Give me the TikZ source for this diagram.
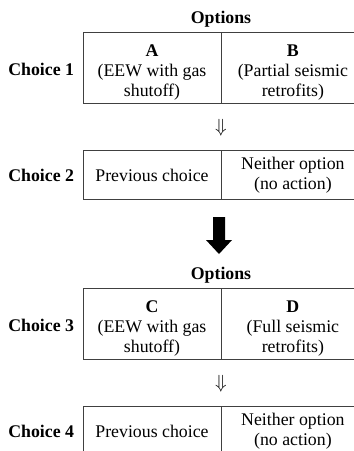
\documentclass[tikz,border=0pt]{standalone}
\usepackage{fontspec}
\setmainfont{Liberation Serif}
\usetikzlibrary{positioning}
\newcommand{\optlbl}[1]{\rule{0pt}{21pt}\textbf{#1}}

\begin{document}
\begin{tikzpicture}[x=1pt,y=-1pt,font=\fontsize{17.8}{20}\selectfont,
    cell/.style={draw=black!75,line width=0.9pt,minimum width=138pt,align=center,inner sep=0pt},
    cellr/.style={cell,minimum width=142pt},
    tall/.style={minimum height=71pt},
    short/.style={minimum height=49pt},
    lbl/.style={font=\fontsize{17.8}{20}\selectfont\bfseries}]
\useasboundingbox (0,0) rectangle (354,451);
\node[lbl](o1)at(221,19){Options};
\node[cell,tall](a1)at(152,68){\optlbl{A}\\(EEW with gas\\shutoff)};
\node[cellr,tall,right=0pt of a1](b1){\optlbl{B}\\(Partial seismic\\retrofits)};
\node[lbl,left=5pt of a1,yshift=-1pt](c1){Choice 1};
\node[scale=1.1](d1)at(221,128){$\Downarrow$};
\node[cell,short](a2)at(152,175){Previous choice};
\node[cellr,short,right=0pt of a2](b2){Neither option\\(no action)};
\node[lbl,left=5pt of a2](c2){Choice 2};
\fill[shift={(219,217)}](-6,0)--(6,0)--(6,23)--(13,23)--(0,37)--(-13,23)--(-6,23)--cycle;
\node[lbl](o3)at(221,275){Options};
\node[cell,tall](a3)at(152,324){\optlbl{C}\\(EEW with gas\\shutoff)};
\node[cellr,tall,right=0pt of a3](b3){\optlbl{D}\\(Full seismic\\retrofits)};
\node[lbl,left=5pt of a3,yshift=-1pt](c3){Choice 3};
\node[scale=1.1](d3)at(221,384){$\Downarrow$};
\node[cell,short](a4)at(152,431){Previous choice};
\node[cellr,short,right=0pt of a4](b4){Neither option\\(no action)};
\node[lbl,left=5pt of a4](c4){Choice 4};
\end{tikzpicture}
\end{document}
